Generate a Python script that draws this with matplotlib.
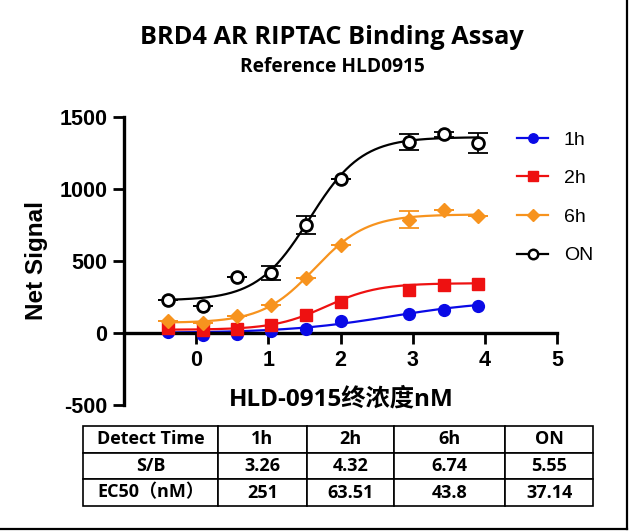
import numpy as np
import matplotlib.pyplot as plt
from matplotlib.lines import Line2D

plt.rcParams['font.family'] = ['Liberation Sans', 'DejaVu Sans']
plt.rcParams['axes.unicode_minus'] = False
TXT = ['Open Sans', 'Noto Sans CJK SC']

# log10 of final concentration (nM), 3-fold dilution (one point missing)
log_conc = [-0.39, 0.09, 0.56, 1.04, 1.52, 2.00, 2.95, 3.43, 3.90]

sig_1h = [7, -12, -5, 12, 30, 82, 128, 159, 187]
sig_2h = [37, 23, 30, 58, 124, 217, 299, 334, 341]
sig_6h = [84, 72, 119, 194, 380, 609, 786, 852, 808]
sig_on = [229, 189, 387, 415, 749, 1069, 1325, 1377, 1318]
err_6h = [0, 0, 0, 0, 0, 0, 58, 0, 0]
err_on = [0, 0, 0, 50, 65, 0, 58, 20, 68]

# 4PL fit parameters: bottom, top, logEC50, hill
fit_1h = [0, 230, 2.70, 0.6]
fit_2h = [22, 345, 1.80, 1.2]
fit_6h = [70, 822, 1.64, 1.2]
fit_on = [225, 1358, 1.57, 1.2]

labels = ['1h', '2h', '6h', 'ON']

# table
tbl_head = ['Detect Time', '1h', '2h', '6h', 'ON']
tbl_sb = ['S/B', '3.26', '4.32', '6.74', '5.55']
tbl_ec50 = ['EC50（nM）', '251', '63.51', '43.8', '37.14']


def four_pl(x, p):
    b, t, lec, h = p
    return b + (t - b) / (1 + 10 ** ((lec - x) * h))


fig = plt.figure(figsize=(6.3, 5.31), dpi=100)
ax = fig.add_axes([124 / 630, 1 - 405 / 531, 433 / 630, 288.3 / 531])

series = [
    (sig_1h, None, fit_1h, '#0a0ae6', 'o', 8.5, True),
    (sig_2h, None, fit_2h, '#ee1111', 's', 8.5, True),
    (sig_6h, err_6h, fit_6h, '#f7931e', 'D', 7.5, True),
    (sig_on, err_on, fit_on, 'black', 'o', 8.5, False),
]

xf = np.linspace(log_conc[0], log_conc[-1], 300)
handles = []
for i, (y, err, p, c, m, ms, filled) in enumerate(series):
    ax.plot(xf, four_pl(xf, p), color=c, lw=1.6, zorder=2 + i)
    fc = c if filled else 'white'
    if err is not None:
        ax.errorbar(log_conc, y, yerr=err, fmt='none', ecolor=c, elinewidth=1.3,
                    capsize=7, capthick=1.3, zorder=2 + i)
    ax.plot(log_conc, y, ls='none', marker=m, ms=ms, mfc=fc, mec=c,
            mew=2 if not filled else 1, zorder=3 + i)
    handles.append(Line2D([], [], color=c, lw=1.6, marker=m, ms=ms * 0.8,
                          mfc=fc, mec=c, mew=1.8 if not filled else 1))

ax.set_xlim(-1, 5)
ax.set_ylim(-500, 1500)
ax.set_xticks([0, 1, 2, 3, 4, 5])
ax.set_yticks([-500, 0, 500, 1000, 1500])
ax.spines['bottom'].set_position(('data', 0))
ax.spines['top'].set_visible(False)
ax.spines['right'].set_visible(False)
for s in ['left', 'bottom']:
    ax.spines[s].set_linewidth(2.4)
ax.tick_params(direction='out', length=8, width=2, labelsize=15.5, pad=4)
for t in ax.get_xticklabels() + ax.get_yticklabels():
    t.set_fontweight('bold')
ax.patch.set_alpha(0)

leg = ax.legend(handles, labels, loc='upper left', bbox_to_anchor=(517 / 630, 1 - 131 / 531),
                bbox_transform=fig.transFigure, frameon=False, fontsize=14,
                handlelength=1.6, handletextpad=0.8, labelspacing=1.08,
                borderpad=0, borderaxespad=0)

fig.text(37 / 630, 1 - 260 / 531, 'Net Signal', rotation=90, ha='center', va='center',
         fontsize=17.5, fontweight='bold')
fig.text(341 / 630, 1 - 400 / 531, 'HLD-0915终浓度nM', ha='center', va='center',
         fontsize=17.5, fontweight='bold', family=TXT)
fig.text(332 / 630, 1 - 37 / 531, 'BRD4 AR RIPTAC Binding Assay', ha='center', va='center',
         fontsize=18.3, fontweight='bold', family=TXT)
fig.text(332 / 630, 1 - 67 / 531, 'Reference HLD0915', ha='center', va='center',
         fontsize=13.8, fontweight='bold', family=TXT)

tax = fig.add_axes([83 / 630, 1 - 506 / 531, 510 / 630, 80 / 531])
tax.axis('off')
cw = np.array([135, 88.7, 87.6, 111, 87.7])
tbl = tax.table(cellText=[tbl_head, tbl_sb, tbl_ec50], cellLoc='center',
                colWidths=list(cw / cw.sum()), bbox=[0, 0, 1, 1])
tbl.auto_set_font_size(False)
for (r, c), cell in tbl.get_celld().items():
    cell.set_linewidth(1.2)
    cell.get_text().set_fontsize(13)
    cell.get_text().set_fontweight('bold')
    cell.get_text().set_family(TXT)

# figure border (right and bottom)
fig.add_artist(Line2D([627 / 630, 627 / 630], [2 / 531, 1], transform=fig.transFigure,
                      color='black', lw=1.6))
fig.add_artist(Line2D([0, 627 / 630], [2 / 531, 2 / 531], transform=fig.transFigure,
                      color='black', lw=1.6))

fig.savefig('out.png', dpi=100)
